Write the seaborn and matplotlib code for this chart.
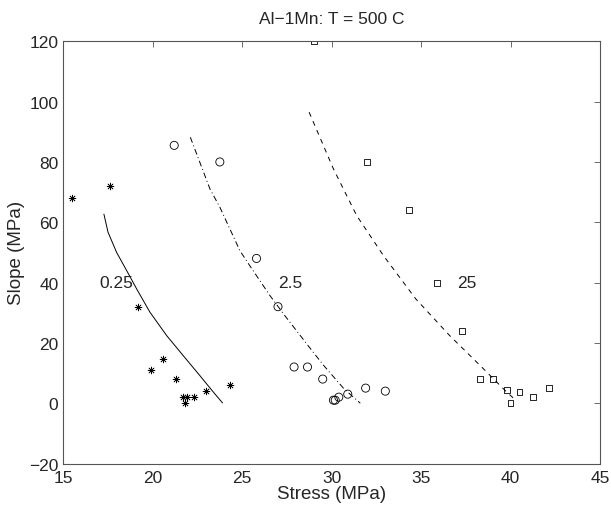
import numpy as np
import pandas as pd
import matplotlib
matplotlib.use("Agg")
import matplotlib.pyplot as plt
import seaborn as sns

# ---- data ----
star_x = [15.5, 17.6, 19.2, 19.9, 20.6, 21.3, 21.7, 21.8, 21.9, 22.3, 23.0, 24.3]
star_y = [68, 72, 32, 11, 14.5, 8, 2, 0, 2, 2, 4, 6]

circ_x = [21.2, 23.75, 25.8, 27.0, 27.9, 28.65, 29.5, 30.1, 30.2, 30.4, 30.9, 31.9, 33.0]
circ_y = [85.5, 80, 48, 32, 12, 12, 8, 1, 1, 2, 3, 5, 4]

sq_x = [29.0, 32.0, 34.3, 35.9, 37.3, 38.3, 39.0, 39.8, 40.5, 40.0, 41.25, 42.15]
sq_y = [120, 80, 64, 40, 24, 8, 8, 4.5, 3.8, 0, 2, 5]

fit1_x = [17.27, 17.5, 17.98, 18.54, 19.1, 19.84, 20.78, 21.7, 22.64, 23.4, 23.9]
fit1_y = [62.7, 56.7, 50.0, 44.0, 37.9, 30.2, 22.4, 15.8, 9.1, 3.6, 0.1]

fit2_x = [22.1, 23.2, 23.75, 24.87, 25.4, 26.55, 27.4, 28.97, 29.6, 30.7, 31.6]
fit2_y = [88.2, 71.0, 65.0, 50.6, 45.8, 35.7, 28.9, 16.9, 12.2, 4.7, 0.0]

fit3_x = [28.74, 30.1, 31.4, 32.9, 34.7, 36.6, 38.3, 39.8, 40.2]
fit3_y = [96.5, 77.7, 62.2, 48.9, 34.6, 22.4, 12.5, 3.6, 1.5]

labels = ["0.25", "2.5", "25"]
label_x = [17.0, 27.0, 37.0]
label_y = [40, 40, 40]

x_ticks = [15, 20, 25, 30, 35, 40, 45]
y_ticks = [-20, 0, 20, 40, 60, 80, 100, 120]

# ---- plot ----
sns.set_style("white")
plt.rcParams['font.family'] = ['Liberation Sans', 'DejaVu Sans']

fig = plt.figure(figsize=(6.11, 5.10), dpi=100)
ax = fig.add_axes([0.1036, 0.0892, 0.982 - 0.1036, 0.917 - 0.0892])

axis_col = "#555555"
fs = 12.5

sns.lineplot(x=fit1_x, y=fit1_y, ax=ax, color="k", lw=0.7, sort=False,
             estimator=None, linestyle="-")
sns.lineplot(x=fit2_x, y=fit2_y, ax=ax, color="k", lw=0.7, sort=False,
             estimator=None, linestyle=(0, (6, 3, 1, 3)))
sns.lineplot(x=fit3_x, y=fit3_y, ax=ax, color="k", lw=0.7, sort=False,
             estimator=None, linestyle=(0, (5, 5)))

sns.scatterplot(x=star_x, y=star_y, ax=ax, marker=(8, 2, 0), s=24,
                color="k", linewidth=0.5)
sns.scatterplot(x=circ_x, y=circ_y, ax=ax, marker="o", s=34,
                facecolors="none", edgecolors="k", linewidths=0.6)
sns.scatterplot(x=sq_x, y=sq_y, ax=ax, marker="s", s=18,
                facecolors="none", edgecolors="k", linewidths=0.6)

for t, tx, ty in zip(labels, label_x, label_y):
    ax.text(tx, ty, t, ha="left", va="center", fontsize=fs)

ax.set_xlim(15, 45)
ax.set_ylim(-20, 120)
ax.set_xticks(x_ticks)
ax.set_yticks(y_ticks)
ax.tick_params(direction="in", length=4, width=0.6, color=axis_col,
               top=True, right=True, labelsize=fs)
ax.tick_params(axis="x", pad=5)
ax.tick_params(axis="y", pad=3.5)
for sp in ax.spines.values():
    sp.set_color(axis_col)
    sp.set_linewidth(0.8)

ax.set_xlabel("Stress (MPa)", fontsize=13.5, labelpad=0)
ax.set_ylabel("Slope (MPa)", fontsize=13.5, labelpad=3)
ax.set_title("Al\u22121Mn: T = 500 C", fontsize=12.5, pad=13)

fig.savefig("out.png", dpi=100)
